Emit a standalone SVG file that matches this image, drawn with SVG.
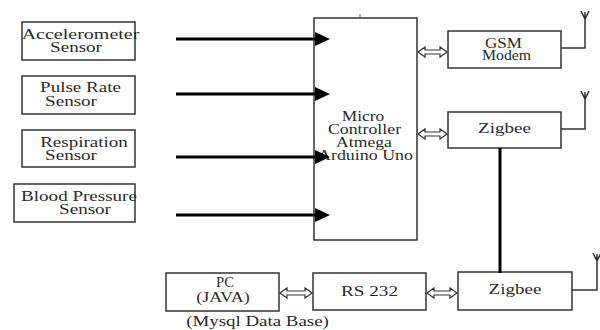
<svg xmlns="http://www.w3.org/2000/svg" width="600" height="330" viewBox="0 0 600 330">
<style>
.box{fill:#fff;stroke:#333;stroke-width:1.5}
text{font-family:"Liberation Serif","Times New Roman",serif;font-size:14px;fill:#2a2a2a;text-anchor:middle}
.thick{stroke:#000;stroke-width:3;fill:none}
.dbl{fill:#fff;stroke:#333;stroke-width:1.2}
.ant{fill:none;stroke:#333;stroke-width:1.5}
</style>
<rect width="600" height="330" fill="#fff"/>

<g id="accel">
<rect class="box" x="22" y="22" width="113" height="38"/>
<text transform="translate(80.5,39) scale(1.43,1)">Accelerometer</text>
<text transform="translate(76,52) scale(1.36,1)">Sensor</text>
</g>
<g id="pulse">
<rect class="box" x="22" y="76" width="113" height="38"/>
<text transform="translate(80.5,92) scale(1.36,1)">Pulse Rate</text>
<text transform="translate(71,106) scale(1.36,1)">Sensor</text>
</g>
<g id="resp">
<rect class="box" x="22" y="130" width="113" height="37"/>
<text transform="translate(84,147) scale(1.36,1)">Respiration</text>
<text transform="translate(71,160) scale(1.36,1)">Sensor</text>
</g>
<g id="bp">
<rect class="box" x="14" y="184" width="121" height="38"/>
<text transform="translate(79,201) scale(1.36,1)">Blood Pressure</text>
<text transform="translate(85,214) scale(1.36,1)">Sensor</text>
</g>

<g id="mc">
<rect class="box" x="314" y="18" width="103" height="222"/>
<line x1="360" y1="14" x2="360" y2="18" stroke="#555" stroke-width="1"/>
<text transform="translate(363,121) scale(1.24,1)">Micro</text>
<text transform="translate(364.5,134) scale(1.27,1)">Controller</text>
<text transform="translate(364,147) scale(1.26,1)">Atmega</text>
<text transform="translate(365.5,160) scale(1.28,1)">Arduino Uno</text>
</g>

<g id="gsm">
<rect class="box" x="448" y="31" width="113" height="37"/>
<text transform="translate(503.5,48) scale(1.22,1)">GSM</text>
<text transform="translate(506.5,60) scale(1.13,1)">Modem</text>
<path class="ant" d="M561,48 H585 V12 M581,11 L585,19 L589,11"/>
</g>

<g id="zigbee1">
<rect class="box" x="448" y="112" width="113" height="36"/>
<text transform="translate(504.5,133) scale(1.36,1)">Zigbee</text>
<path class="ant" d="M561,129 H585 V92 M581,91 L585,99 L589,91"/>
</g>

<g id="pc">
<rect class="box" x="166" y="273" width="113" height="38"/>
<text transform="translate(225,287) scale(1.05,1)">PC</text>
<text transform="translate(223,302) scale(1.29,1)">(JAVA)</text>
<text transform="translate(257.5,326) scale(1.35,1)">(Mysql Data Base)</text>
</g>

<g id="rs232">
<rect class="box" x="313" y="273" width="113" height="37"/>
<text transform="translate(369.5,296) scale(1.37,1)">RS 232</text>
</g>

<g id="zigbee2">
<rect class="box" x="458" y="272" width="114" height="38"/>
<text transform="translate(515,294) scale(1.36,1)">Zigbee</text>
<path class="ant" d="M572,290 H597 V254 M593,253 L597,261 L601,253"/>
</g>

<g id="connectors">
<line class="thick" x1="176" y1="39" x2="316" y2="39"/>
<polygon points="315,32 330,39 315,46" fill="#000"/>
<line class="thick" x1="176" y1="94" x2="316" y2="94"/>
<polygon points="315,87 330,94 315,101" fill="#000"/>
<line class="thick" x1="176" y1="157" x2="316" y2="157"/>
<polygon points="315,150 330,157 315,164" fill="#000"/>
<line class="thick" x1="176" y1="215" x2="316" y2="215"/>
<polygon points="315,208 330,215 315,222" fill="#000"/>
<line class="thick" x1="500" y1="148" x2="500" y2="273"/>
<path class="dbl" d="M418,52 L425,47 L425,50 L440,50 L440,47 L447,52 L440,57 L440,54 L425,54 L425,57 Z"/>
<path class="dbl" d="M418,134 L425,129 L425,132 L440,132 L440,129 L447,134 L440,139 L440,136 L425,136 L425,139 Z"/>
<path class="dbl" d="M280,293 L287,288 L287,291 L305,291 L305,288 L312,293 L305,298 L305,295 L287,295 L287,298 Z"/>
<path class="dbl" d="M427,293 L434,288 L434,291 L450,291 L450,288 L457,293 L450,298 L450,295 L434,295 L434,298 Z"/>
</g>
</svg>
